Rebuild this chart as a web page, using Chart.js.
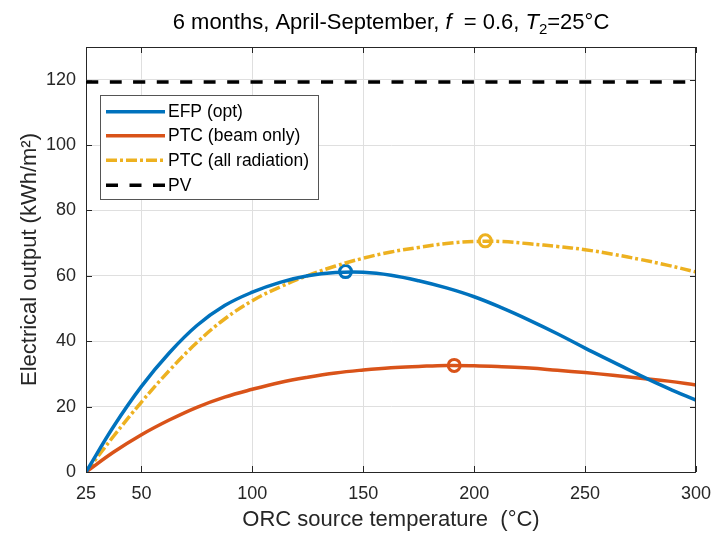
<!DOCTYPE html>
<html>
<head>
<meta charset="utf-8">
<script src="https://cdn.jsdelivr.net/npm/chart.js@4/dist/chart.umd.min.js"></script>
<style>
  html, body { margin: 0; padding: 0; background: #fff; }
</style>
</head>
<body>
<canvas id="chart" width="722" height="536"></canvas>
<script>
// ORC source temperature (deg C) sample points shared by the three curves
const tempC   = [25, 37.5, 50, 62.5, 75, 87.5, 100, 112.5, 125, 137.5, 150, 162.5, 175, 187.5, 200, 212.5, 225, 237.5, 250, 262.5, 275, 287.5, 300];
const efpOpt  = [0, 14.0, 26.2, 36.4, 44.8, 50.9, 55.0, 58.0, 60.0, 61.0, 61.1, 60.2, 58.5, 56.3, 53.6, 50.2, 46.4, 42.3, 37.9, 33.7, 29.5, 25.6, 22.0];
const ptcBeam = [0, 6.1, 11.4, 15.9, 19.8, 22.9, 25.3, 27.4, 29.0, 30.3, 31.2, 31.9, 32.3, 32.6, 32.5, 32.2, 31.8, 31.1, 30.4, 29.6, 28.7, 27.8, 26.6];
const ptcAll  = [0, 11.0, 21.4, 31.0, 39.6, 46.8, 52.4, 56.6, 60.1, 63.0, 65.4, 67.3, 68.7, 69.9, 70.5, 70.5, 69.8, 69.0, 68.0, 66.6, 65.0, 63.2, 61.2];
const pvLevel = 119.3;

// optimum markers (EFP, PTC beam, PTC all)
const peakT   = [142, 191, 205];
const peakVal = [61.3, 32.6, 70.7];

const seriesNames = ['EFP (opt)', 'PTC (beam only)', 'PTC (all radiation)', 'PV'];
const xTicks = [25, 50, 100, 150, 200, 250, 300];
const yTicks = [0, 20, 40, 60, 80, 100, 120];

const FONT = "'Liberation Sans', Arial, Helvetica, sans-serif";
const AX = '#262626';
const BLUE = '#0072BD', ORANGE = '#D95319', YELLOW = '#EDB120';

const pts = (ys) => tempC.map((t, i) => ({x: t, y: ys[i]}));

function lineSet(label, ys, color, dash) {
  return {
    label, data: pts(ys), borderColor: color, borderWidth: 3.5,
    borderDash: dash || [], pointRadius: 0, fill: false,
    tension: 0.4, borderJoinStyle: 'round',
    inLegend: true
  };
}

function peakSet(i, color) {
  return {
    type: 'scatter', label: '', data: [{x: peakT[i], y: peakVal[i]}],
    showLine: false, pointRadius: 6, pointBorderWidth: 3,
    pointBackgroundColor: 'rgba(0,0,0,0)', pointBorderColor: color,
    inLegend: false
  };
}

// box, inward ticks, legend and title in MATLAB style
const decor = {
  id: 'decor',
  afterDatasetsDraw(chart) {
    const {ctx, chartArea: a, scales: {x, y}} = chart;
    ctx.save();
    ctx.strokeStyle = AX;
    ctx.lineWidth = 1;
    ctx.beginPath();
    ctx.moveTo(a.left, a.top + 0.5); ctx.lineTo(a.right, a.top + 0.5);
    ctx.moveTo(a.right - 0.5, a.top); ctx.lineTo(a.right - 0.5, a.bottom);
    const tl = 6;
    xTicks.forEach(v => {
      const px = Math.round(x.getPixelForValue(v)) + 0.5;
      ctx.moveTo(px, a.bottom); ctx.lineTo(px, a.bottom - tl);
      ctx.moveTo(px, a.top); ctx.lineTo(px, a.top + tl);
    });
    yTicks.forEach(v => {
      const py = Math.round(y.getPixelForValue(v)) + 0.5;
      ctx.moveTo(a.left, py); ctx.lineTo(a.left + tl, py);
      ctx.moveTo(a.right, py); ctx.lineTo(a.right - tl, py);
    });
    ctx.stroke();

    // legend
    const lx = 100.5, ly = 95.5, lw = 218, lh = 104;
    ctx.fillStyle = '#fff';
    ctx.fillRect(lx, ly, lw, lh);
    ctx.strokeStyle = '#555';
    ctx.strokeRect(lx, ly, lw, lh);
    const rows = [111.7, 135.7, 160.3, 185.3];
    const items = chart.data.datasets.filter(d => d.inLegend);
    ctx.font = '17.5px ' + FONT;
    ctx.textBaseline = 'middle';
    ctx.textAlign = 'left';
    items.forEach((d, i) => {
      ctx.beginPath();
      ctx.strokeStyle = d.borderColor;
      ctx.lineWidth = d.borderWidth;
      ctx.setLineDash(d.borderDash || []);
      ctx.moveTo(106, rows[i]); ctx.lineTo(165, rows[i]);
      ctx.stroke();
      ctx.setLineDash([]);
      ctx.fillStyle = '#000';
      ctx.fillText(d.label, 168, rows[i] + 0.5);
    });

    // title with italic f, T and subscript 2
    const big = '22px ' + FONT, ital = 'italic 22px ' + FONT, small = '15px ' + FONT;
    const segs = [
      {t: '6 months, April-September, ', f: big, dy: 0},
      {t: 'f', f: ital, dy: 0},
      {t: '  = 0.6, ', f: big, dy: 0},
      {t: 'T', f: ital, dy: 0},
      {t: '2', f: small, dy: 5},
      {t: '=25\u00B0C', f: big, dy: 0}
    ];
    let total = 0;
    segs.forEach(s => { ctx.font = s.f; s.w = ctx.measureText(s.t).width; total += s.w; });
    let cx = (a.left + a.right) / 2 - total / 2;
    ctx.textBaseline = 'alphabetic';
    ctx.fillStyle = '#000';
    segs.forEach(s => { ctx.font = s.f; ctx.fillText(s.t, cx, 29 + s.dy); cx += s.w; });
    ctx.restore();
  }
};

new Chart(document.getElementById('chart'), {
  type: 'line',
  data: {
    datasets: [
      lineSet(seriesNames[0], efpOpt, BLUE),
      lineSet(seriesNames[1], ptcBeam, ORANGE),
      lineSet(seriesNames[2], ptcAll, YELLOW, [11, 3, 3, 3]),
      Object.assign(lineSet(seriesNames[3], [], '#000', [12, 11.5]), {
        data: [{x: tempC[0], y: pvLevel}, {x: tempC[tempC.length - 1], y: pvLevel}]
      }),
      peakSet(0, BLUE),
      peakSet(1, ORANGE),
      peakSet(2, YELLOW)
    ]
  },
  options: {
    responsive: false,
    animation: false,
    devicePixelRatio: 1,
    layout: { padding: { top: 47, right: 17, left: 0, bottom: 0 } },
    plugins: { legend: { display: false }, tooltip: { enabled: false } },
    scales: {
      x: {
        type: 'linear', min: 25, max: 300,
        afterBuildTicks: s => { s.ticks = xTicks.map(v => ({value: v})); },
        afterFit: s => { s.height = 64; },
        ticks: { font: { family: FONT, size: 18 }, color: AX, padding: 11, maxRotation: 0, autoSkip: false },
        grid: { color: '#dfdfdf', drawTicks: false },
        border: { color: AX, width: 1 },
        title: { display: true, text: 'ORC source temperature  (\u00B0C)', font: { family: FONT, size: 22 }, color: AX, padding: { top: 0, bottom: 3 } }
      },
      y: {
        type: 'linear', min: 0, max: 130,
        afterBuildTicks: s => { s.ticks = yTicks.map(v => ({value: v})); },
        afterFit: s => { s.width = 86; },
        ticks: { font: { family: FONT, size: 18 }, color: AX, padding: 10 },
        grid: { color: '#dfdfdf', drawTicks: false },
        border: { color: AX, width: 1 },
        title: { display: true, text: 'Electrical output (kWh/m\u00B2)', font: { family: FONT, size: 22 }, color: AX, padding: { top: 17, bottom: 0 } }
      }
    }
  },
  plugins: [decor]
});
</script>
</body>
</html>
